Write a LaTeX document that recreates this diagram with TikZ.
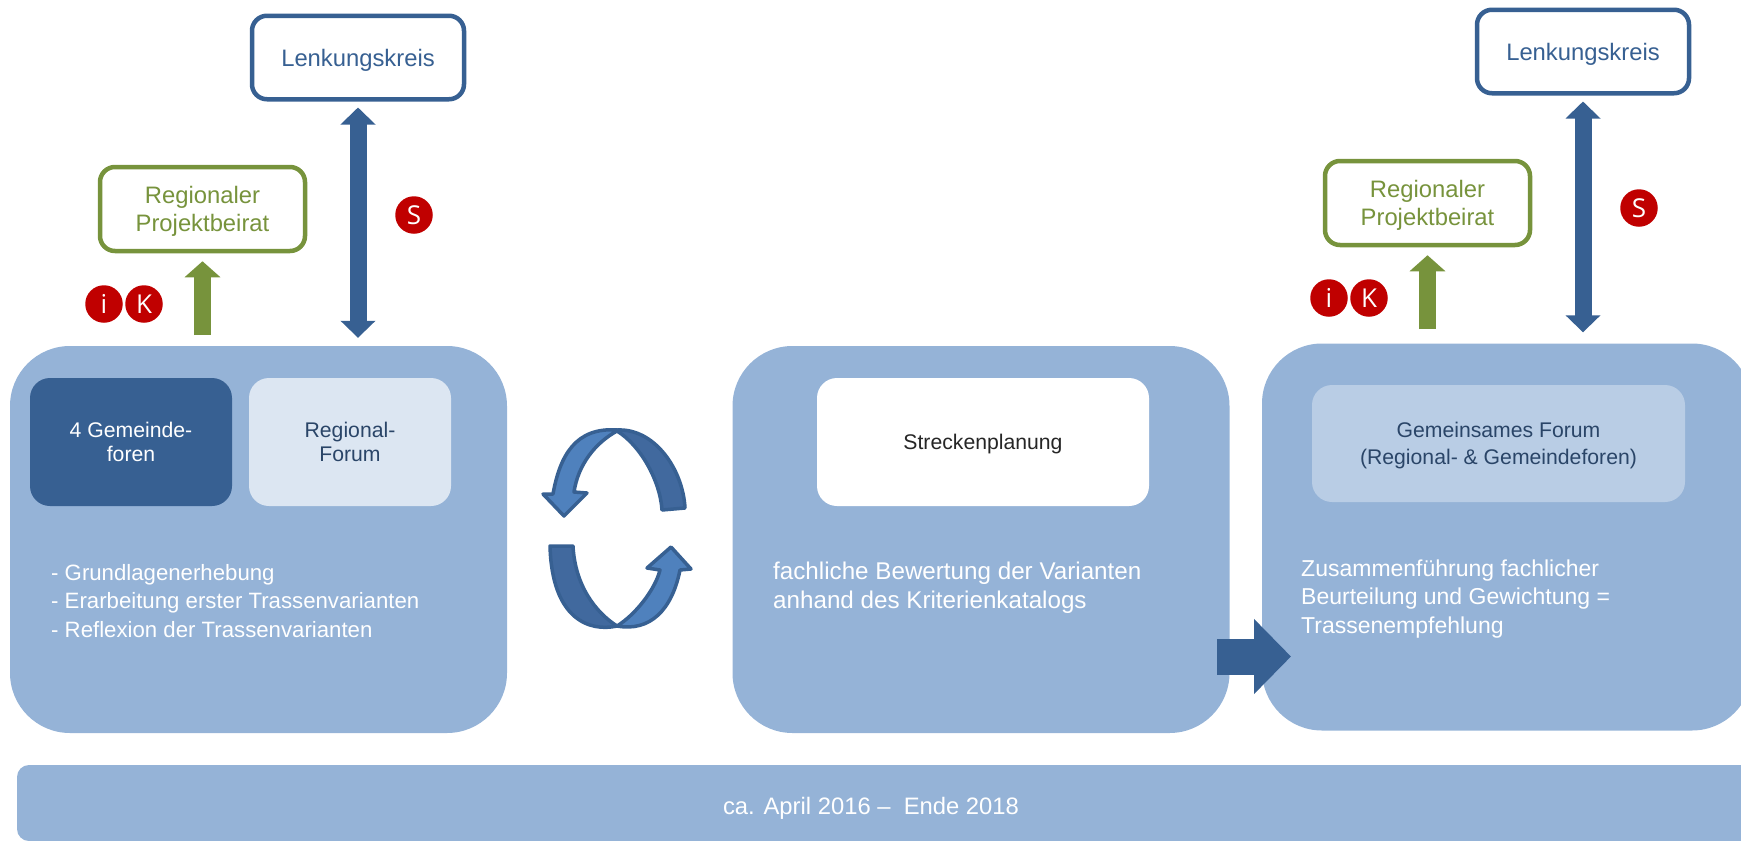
\documentclass[tikz,border=0pt]{standalone}
\usepackage{fontspec}
\setmainfont{Liberation Sans}
\newfontfamily\badgefont{Open Sans}
\usetikzlibrary{arrows.meta}
\definecolor{phaseblue}{HTML}{95B3D7}
\definecolor{darkblue}{HTML}{376092}
\definecolor{midblue}{HTML}{41699E}
\definecolor{arcblue}{HTML}{4F81BD}
\definecolor{paleblue}{HTML}{DCE6F2}
\definecolor{softblue}{HTML}{B9CDE5}
\definecolor{navy}{HTML}{2A4568}
\definecolor{leaf}{HTML}{77933C}
\definecolor{badgered}{HTML}{C00000}
\tikzset{
  phase/.style={fill=phaseblue,rounded corners=60pt,minimum width=#1,minimum height=387pt,inner sep=0pt},
  forum/.style={rounded corners=20pt,minimum height=128pt,inner sep=0pt,align=center,text depth=-4pt,font=\fontsize{21.2}{24.4}\selectfont},
  bigtext/.style={font=\fontsize{23.8}{28.2}\selectfont},
  outbox/.style={draw=#1,text=#1,fill=white,line width=4.5pt,rounded corners=15pt,inner sep=0pt,align=center,text depth=-1pt,bigtext},
  badge/.style={circle,fill=badgered,text=white,minimum size=37.5pt,inner sep=0pt,font=\badgefont\fontsize{26}{26}\selectfont},
  bodytext/.style={anchor=west,align=left,text=white,inner sep=0pt},
  greenarrow/.style={draw=leaf,line width=17pt,-{Triangle[length=16pt,width=35pt]}},
  bluearrow/.style={draw=darkblue,line width=17pt,{Triangle[length=17pt,width=34pt]}-{Triangle[length=17pt,width=34pt]}},
  nextarrow/.style={draw=darkblue,line width=36pt,-{Triangle[length=37pt,width=73pt]}},
  arcdark/.style={fill=midblue,draw=darkblue,line width=3.5pt,line join=round},
  arclight/.style={fill=arcblue,draw=darkblue,line width=3.5pt,line join=round}
}
\begin{document}
\begin{tikzpicture}[x=1pt,y=-1pt]
\useasboundingbox (0,0) rectangle (1741,841);

\node[fill=phaseblue,rounded corners=12pt,minimum width=1740pt,minimum height=76pt,inner sep=0pt] (datebar) at (887,803) {};
\node[text=white,inner sep=0pt,font=\fontsize{23.8}{28}\selectfont] (datetext) at (871,808.5) {ca. April 2016 –\ \ Ende 2018};

\node[phase=497pt] (phaseone) at (258.5,539.5) {};
\node[phase=497pt] (phasetwo) at (981,539.5) {};
\node[phase=490pt] (phasethree) at (1507,537) {};

\node[forum,fill=darkblue,text=white,minimum width=202pt] (gemeinde) at (131,442) {4 Gemeinde-\\foren};
\node[forum,fill=paleblue,text=navy,minimum width=202pt] (regional) at (350,442) {Regional-\\Forum};
\node[forum,fill=white,text=black!85,minimum width=332pt] (strecke) at (983,442) {Streckenplanung};
\node[forum,fill=softblue,text=navy,minimum width=373pt,minimum height=117pt] (gemeinsam) at (1498.5,443.5) {Gemeinsames Forum\\[2.3pt](Regional- \& Gemeindeforen)};

\node[bodytext,font=\fontsize{22.2}{28.2}\selectfont] (listone) at (51,601) {- Grundlagenerhebung\\- Erarbeitung erster Trassenvarianten\\- Reflexion der Trassenvarianten};
\node[bodytext,font=\fontsize{24.2}{28.8}\selectfont] (listtwo) at (773,588) {fachliche Bewertung der Varianten\\anhand des Kriterienkatalogs};
\node[bodytext,font=\fontsize{23}{28.8}\selectfont] (listthree) at (1301,599) {Zusammenführung fachlicher\\Beurteilung und Gewichtung =\\Trassenempfehlung};

\node[outbox=darkblue,minimum width=212pt,minimum height=83.5pt] (lenkone) at (358,57.5) {Lenkungskreis};
\node[outbox=leaf,minimum width=205pt,minimum height=84pt] (beiratone) at (202.5,209) {Regionaler\\Projektbeirat};
\node[outbox=darkblue,minimum width=212pt,minimum height=83.5pt] (lenktwo) at (1583,51.5) {Lenkungskreis};
\node[outbox=leaf,minimum width=205pt,minimum height=84pt] (beirattwo) at (1427.5,203) {Regionaler\\Projektbeirat};

\coordinate (greenone) at (202.5,335);
\coordinate (greentwo) at (1427.5,329);
\draw[greenarrow,shorten >=8pt] (greenone) -- (beiratone.south);
\draw[greenarrow,shorten >=8pt] (greentwo) -- (beirattwo.south);
\draw[bluearrow,shorten <=6pt,shorten >=8pt] (lenkone.south) -- (lenkone.south |- phaseone.north);
\draw[bluearrow,shorten <=6pt,shorten >=11pt] (lenktwo.south) -- (lenktwo.south |- phasethree.north);

\coordinate (nextfrom) at (1217,656.5);
\coordinate (nextto) at (1291,656.5);
\draw[nextarrow] (nextfrom) -- (nextto);

\node[badge] (iconeone) at (104,304) {i};
\node[badge] (kone) at (144,304) {K};
\node[badge] (sone) at (414,215) {S};
\node[badge] (iconetwo) at (1329,298) {i};
\node[badge] (ktwo) at (1369,298) {K};
\node[badge] (stwo) at (1639,208) {S};

\draw[arcdark] (617,430) .. controls (655,428) and (683,470) .. (685,508) -- (662,510) .. controls (660,480) and (640,445) .. (617,431) -- cycle;
\draw[arclight] (617,430) .. controls (576,427) and (560,455) .. (553,494) -- (543,494) -- (564,516) -- (587,493) -- (574,492) .. controls (578,465) and (595,443) .. (617,431) -- cycle;
\draw[arcdark] (550,546) -- (573,546) .. controls (575,585) and (595,612) .. (617,626) .. controls (590,632) and (552,620) .. (550,546) -- cycle;
\draw[arclight] (617,626) .. controls (635,615) and (655,590) .. (660,570) -- (647,568) -- (671,547) -- (691,569) -- (680,570) .. controls (672,610) and (650,632) .. (617,626) -- cycle;
\end{tikzpicture}
\end{document}
